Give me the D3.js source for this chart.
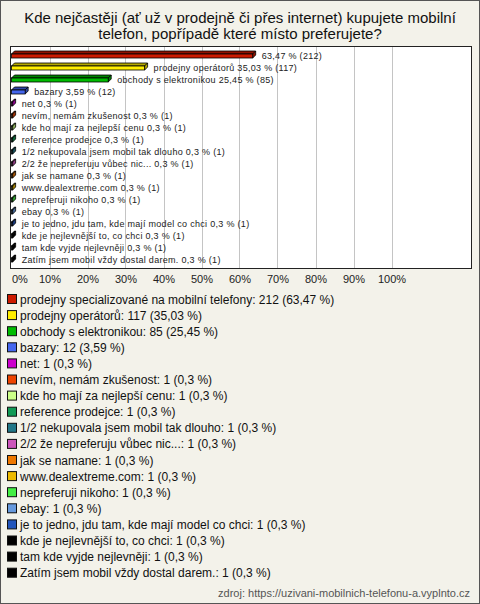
<!DOCTYPE html>
<html><head><meta charset="utf-8">
<script src="https://cdn.jsdelivr.net/npm/d3@7"></script>
<style>body{margin:0;background:#fff}svg{display:block}</style>
</head><body>
<script>
const categories = [
  "prodejny specializované na mobilní telefony",
  "prodejny operátorů",
  "obchody s elektronikou",
  "bazary",
  "net",
  "nevím, nemám zkušenost",
  "kde ho mají za nejlepší cenu",
  "reference prodejce",
  "1/2 nekupovala jsem mobil tak dlouho",
  "2/2 že nepreferuju vůbec nic...",
  "jak se namane",
  "www.dealextreme.com",
  "nepreferuji nikoho",
  "ebay",
  "je to jedno, jdu tam, kde mají model co chci",
  "kde je nejlevnější to, co chci",
  "tam kde vyjde nejlevněji",
  "Zatím jsem mobil vždy dostal darem."
];
const counts = [212,117,85,12,1,1,1,1,1,1,1,1,1,1,1,1,1,1];
const percents = [63.47,35.03,25.45,3.59,0.3,0.3,0.3,0.3,0.3,0.3,0.3,0.3,0.3,0.3,0.3,0.3,0.3,0.3];
const colors = ["#cc1a00","#ffee00","#00bb00","#4466ee","#cc00cc","#ee4400","#ccff88","#119955","#227788","#cc55bb","#ee7700","#eebb00","#44ee44","#6699dd","#2255bb","#000000","#000000","#000000"];
const ticks = [0,10,20,30,40,50,60,70,80,90,100];
const title = ["Kde nejčastěji (ať už v prodejně či přes internet) kupujete mobilní","telefon, popřípadě které místo preferujete?"];
const source = "zdroj: https://uzivani-mobilnich-telefonu-a.vyplnto.cz";

const W = 480, H = 604;
const fmt = v => String(v).replace(".", ",");
const svg = d3.select("body").append("svg").attr("width", W).attr("height", H);
svg.append("rect").attr("x",0.5).attr("y",0.5).attr("width",W-1).attr("height",H-1)
  .attr("fill","#f3f2ea").attr("stroke","#555");

const font = "Liberation Sans, Arial, sans-serif";
svg.append("g").selectAll("text").data(title).join("text")
  .attr("x", W/2).attr("y", (d,i)=>23+i*16).attr("text-anchor","middle")
  .attr("font-family", font).attr("font-size", 15).attr("fill","#111").text(d=>d);

const plot = {l:10, t:46, r:471, b:268};
svg.append("rect").attr("x",plot.l+0.5).attr("y",plot.t+0.5)
  .attr("width",plot.r-plot.l).attr("height",plot.b-plot.t)
  .attr("fill","#fff").attr("stroke","#222");

const x = d3.scaleLinear().domain([0,100]).range([11.5, 391.5]);
const y = d3.scaleBand().domain(categories).range([49, 265]);

svg.append("g").selectAll("line").data(ticks.slice(1)).join("line")
  .attr("x1", d=>Math.round(x(d))+0.5).attr("x2", d=>Math.round(x(d))+0.5)
  .attr("y1", plot.t+1).attr("y2", plot.b)
  .attr("stroke","#c4c4c4");

const axis = d3.axisBottom(x).tickValues(ticks).tickSize(0).tickFormat(d=>d+"%");
const ag = svg.append("g").attr("transform", `translate(0,${272})`).call(axis);
ag.select(".domain").remove();
ag.selectAll("text").attr("font-family", font).attr("font-size", 11).attr("fill","#222")
  .attr("text-anchor", (d,i)=> i===0 ? "start" : "middle");

const dep = 3;
const bars = svg.append("g").selectAll("g").data(categories).join("g");
bars.each(function(c,i){
  const g = d3.select(this);
  const yc = y(c) + y.bandwidth()/2;
  const x0 = x(0), x1 = Math.max(x(percents[i]), x0+1);
  const top = yc - 1, bot = yc + 3;
  const dark = d3.color(colors[i]).darker(1);
  g.append("path").attr("d", `M${x0},${top}L${x0+dep},${top-dep}L${x1+dep},${top-dep}L${x1},${top}Z`)
    .attr("fill", dark).attr("stroke","#000").attr("stroke-width",0.8);
  g.append("path").attr("d", `M${x1},${top}L${x1+dep},${top-dep}L${x1+dep},${bot-dep}L${x1},${bot}Z`)
    .attr("fill", dark).attr("stroke","#000").attr("stroke-width",0.8);
  g.append("rect").attr("x", x0).attr("y", top).attr("width", x1-x0).attr("height", bot-top)
    .attr("fill", colors[i]).attr("stroke","#000").attr("stroke-width",0.8);
  const lbl = (i===0 ? "" : categories[i]+" ") + fmt(percents[i]) + " % (" + counts[i] + ")";
  g.append("text").attr("x", x1 + dep + 6).attr("y", yc + 3.5)
    .attr("font-family", font).attr("font-size", 9).attr("letter-spacing", 0.3)
    .attr("fill","#222").text(lbl);
});

const leg = svg.append("g").selectAll("g").data(categories).join("g")
  .attr("transform", (d,i)=>`translate(0,${299 + i*16.1})`);
leg.append("rect").attr("x",7.5).attr("y",-4.5).attr("width",9).attr("height",9)
  .attr("fill",(d,i)=>colors[i]).attr("stroke","#111");
leg.append("text").attr("x",20).attr("y",4.5).attr("font-family", font).attr("font-size", 12)
  .attr("fill","#111").text((d,i)=>`${d}: ${counts[i]} (${fmt(percents[i])} %)`);

svg.append("text").attr("x", 470).attr("y", 597).attr("text-anchor","end")
  .attr("font-family", font).attr("font-size", 11).attr("fill","#555").text(source);
</script>
</body></html>
